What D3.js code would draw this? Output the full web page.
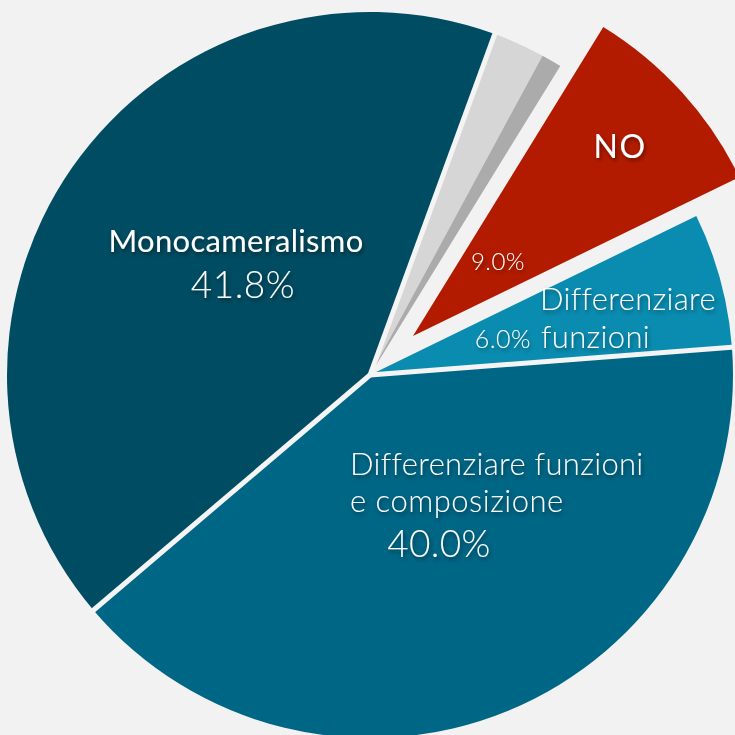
<!DOCTYPE html>
<html>
<head>
<meta charset="utf-8">
<script src="https://cdn.jsdelivr.net/npm/d3@7"></script>
<style>
  html, body { margin: 0; padding: 0; background: #f2f2f2; }
  svg { display: block; }
  text { font-family: Lato, "Open Sans", sans-serif; fill: #ffffff; }
</style>
</head>
<body>
<svg id="chart" width="735" height="735"></svg>
<script>
// ---- data ----
const categories = ["Altro A", "Altro B", "NO", "Differenziare funzioni", "Differenziare funzioni e composizione", "Monocameralismo"];
const values = [2.3, 0.9, 9.0, 6.0, 40.0, 41.8];
const colors = ["#d6d6d6", "#ababab", "#b31b00", "#0a8cb1", "#006685", "#004c62"];
const exploded = [0, 0, 1, 0, 0, 0];
// separators drawn at the start edge of these slices (gap lines)
const gapBefore = [1, 0, 0, 0, 1, 1];

const W = 735, H = 735;
const cx = 370, cy = 375, R = 363, explodeDist = 58;
const startDeg = 20.1;

const svg = d3.select("#chart");
svg.append("rect").attr("width", W).attr("height", H).attr("fill", "#f2f2f2");

const defs = svg.append("defs");
const f = defs.append("filter").attr("id", "shadow").attr("x", "-20%").attr("y", "-30%").attr("width", "140%").attr("height", "180%");
f.append("feDropShadow").attr("dx", 1.5).attr("dy", 2.5).attr("stdDeviation", 2)
  .attr("flood-color", "#000").attr("flood-opacity", 0.45);

const data = categories.map((c, i) => ({ name: c, value: values[i], color: colors[i], explode: exploded[i], gap: gapBefore[i] }));

const start = startDeg * Math.PI / 180;
const pie = d3.pie().sort(null).value(d => d.value).startAngle(start).endAngle(start + 2 * Math.PI);
const arcs = pie(data);
const arc = d3.arc().innerRadius(0).outerRadius(R);

const g = svg.append("g").attr("transform", `translate(${cx},${cy})`);

function offset(d) {
  if (!d.data.explode) return [0, 0];
  const a = (d.startAngle + d.endAngle) / 2;
  return [Math.sin(a) * explodeDist, -Math.cos(a) * explodeDist];
}

g.selectAll("path.slice").data(arcs).join("path")
  .attr("class", "slice")
  .attr("d", arc)
  .attr("transform", d => { const o = offset(d); return `translate(${o[0]},${o[1]})`; })
  .attr("fill", d => d.data.color);

// gap separators between adjacent, non-exploded slices
g.selectAll("line.gap").data(arcs.filter(d => d.data.gap)).join("line")
  .attr("class", "gap")
  .attr("x1", 0).attr("y1", 0)
  .attr("x2", d => Math.sin(d.startAngle) * (R + 4))
  .attr("y2", d => -Math.cos(d.startAngle) * (R + 4))
  .attr("stroke", "#f4f4f4")
  .attr("stroke-width", 5);

// ---- labels ----
// [text, x, y, fontSize, weight, anchor, letterSpacing]
const labelSpecs = [
  ["Monocameralismo", 236, 252, 31, 400, "middle", 0.3],
  ["41.8%", 243, 298, 37, 300, "middle", 0.5],
  ["NO", 620, 158, 32, 400, "middle", 1.5],
  ["9.0%", 498, 270, 24, 300, "middle", 0.5],
  ["Differenziare", 628, 310, 31, 300, "middle", 0.3],
  ["funzioni", 541, 348, 31, 300, "start", 0.3],
  ["6.0%", 531, 348, 25, 300, "end", 0.5],
  ["Differenziare funzioni", 350, 475, 31, 300, "start", 0.3],
  ["e composizione", 350, 512, 31, 300, "start", 0.5],
  ["40.0%", 439, 557, 37, 300, "middle", 0.3]
];

svg.selectAll("text.lbl").data(labelSpecs).join("text")
  .attr("class", "lbl")
  .attr("x", d => d[1]).attr("y", d => d[2])
  .attr("text-anchor", d => d[5])
  .attr("font-size", d => d[3])
  .attr("font-weight", d => d[4])
  .attr("letter-spacing", d => d[6])
  .attr("filter", "url(#shadow)")
  .text(d => d[0]);
</script>
</body>
</html>
